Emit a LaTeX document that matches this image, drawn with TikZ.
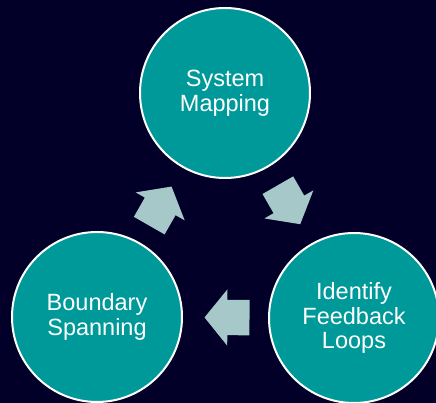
\documentclass[tikz,border=0pt]{standalone}
\usepackage{fontspec}
\setmainfont{Liberation Sans}
\usetikzlibrary{shapes.arrows}
\definecolor{navybg}{RGB}{2,0,40}
\definecolor{tealcirc}{RGB}{0,153,153}
\definecolor{arrowgrey}{RGB}{166,200,200}
\tikzset{
	cyclenode/.style={circle, draw=white, line width=2pt, fill=tealcirc, minimum size=170pt,
		text=white, align=center, font=\fontsize{23.5}{24.5}\selectfont},
	blockarrow/.style={single arrow, fill=arrowgrey, draw=none, inner xsep=0pt, inner ysep=17.5pt,
		minimum height=45pt, single arrow head extend=10.5pt,
		single arrow tip angle=102, sloped, allow upside down, anchor=tip, pos=0.75}
}

\begin{document}
\begin{tikzpicture}[x=1pt,y=-1pt]
	\useasboundingbox (0,0) rectangle (436,403);
	\clip (0,0) rectangle (436,403);
	\fill [navybg] (0,0) rectangle (436,403);
	%Cerchi
	\node [cyclenode] (map) at (225,93) {System\\Mapping};
	\node [cyclenode] (loops) at (354,318) {Identify\\Feedback\\Loops};
	\node [cyclenode] (bound) at (97,317) {Boundary\\Spanning};
	%Frecce
	\path (map) -- (loops) node [blockarrow] {};
	\path (loops) -- (bound) node [blockarrow] {};
	\path (bound) -- (map) node [blockarrow] {};
\end{tikzpicture}
\end{document}
